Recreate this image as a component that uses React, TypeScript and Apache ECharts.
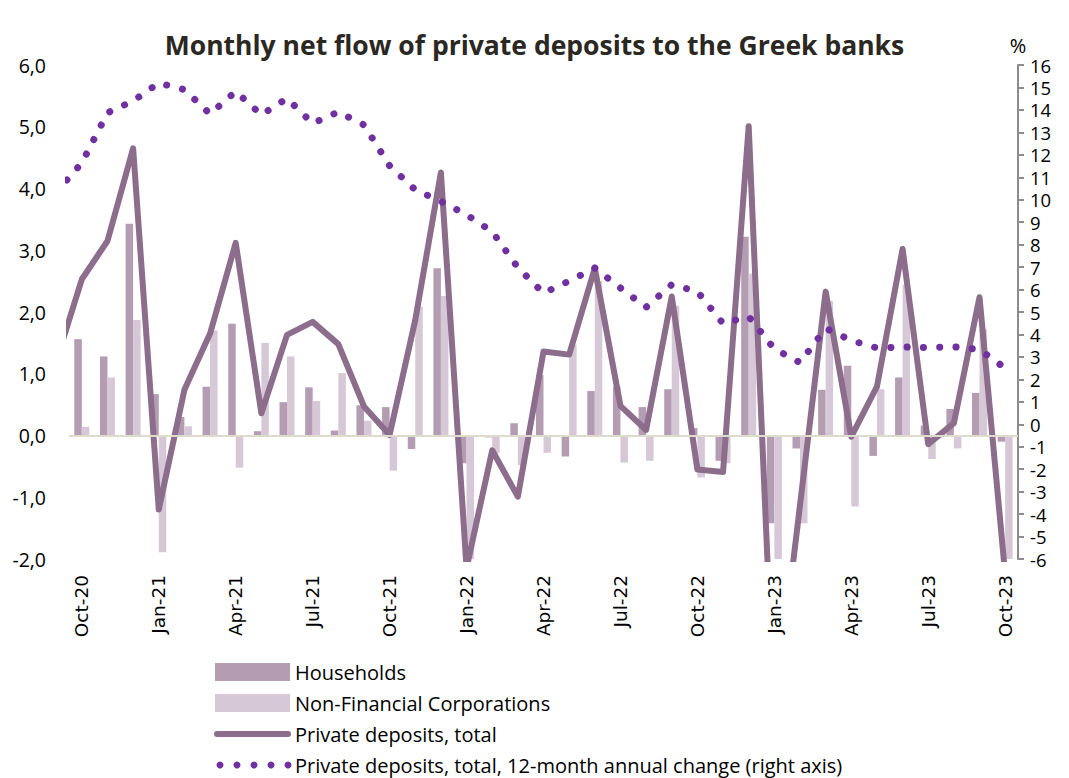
import React, { useEffect, useRef } from "react";
import * as echarts from "echarts";

const months = [
  "Oct-20", "Nov-20", "Dec-20", "Jan-21", "Feb-21", "Mar-21", "Apr-21", "May-21", "Jun-21",
  "Jul-21", "Aug-21", "Sep-21", "Oct-21", "Nov-21", "Dec-21", "Jan-22", "Feb-22", "Mar-22",
  "Apr-22", "May-22", "Jun-22", "Jul-22", "Aug-22", "Sep-22", "Oct-22", "Nov-22", "Dec-22",
  "Jan-23", "Feb-23", "Mar-23", "Apr-23", "May-23", "Jun-23", "Jul-23", "Aug-23", "Sep-23", "Oct-23",
];

const households = [
  1.56, 1.28, 3.43, 0.67, 0.30, 0.79, 1.81, 0.07, 0.54,
  0.78, 0.08, 0.49, 0.46, -0.22, 2.71, -0.45, -0.03, 0.20,
  0.98, -0.34, 0.72, 0.79, 0.46, 0.75, 0.12, -0.41, 3.22,
  -1.42, -0.21, 0.74, 1.13, -0.33, 0.94, 0.16, 0.43, 0.69, -0.10,
];

const nonFinancialCorporations = [
  0.14, 0.94, 1.87, -1.89, 0.15, 1.70, -0.52, 1.50, 1.28,
  0.56, 1.01, 0.24, -0.57, 2.09, 2.26, -2.3, -0.29, -0.48,
  -0.28, 1.47, 2.5, -0.44, -0.41, 2.1, -0.68, -0.45, 2.62,
  -2.6, -1.42, 2.18, -1.15, 0.75, 2.44, -0.38, -0.21, 1.72, -2.4,
];

const privateTotal = [
  2.53, 3.15, 4.65, -1.20, 0.74, 1.65, 3.12, 0.36, 1.63,
  1.84, 1.48, 0.47, 0.01, 1.87, 4.26, -2.15, -0.24, -0.99,
  1.36, 1.31, 2.71, 0.48, 0.09, 2.25, -0.55, -0.59, 5.01,
  -4.6, -1.13, 2.33, -0.02, 0.79, 3.02, -0.14, 0.20, 2.24, -2.25,
];

const annualChange = [
  11.64, 13.87, 14.4, 15.2, 14.9, 13.82, 14.82, 13.78, 14.51,
  13.4, 13.91, 13.33, 11.51, 10.44, 9.93, 9.33, 8.58, 6.98,
  5.84, 6.38, 6.96, 6.07, 5.21, 6.22, 5.91, 4.49, 4.8,
  3.36, 2.75, 4.27, 3.73, 3.4, 3.44, 3.42, 3.45, 3.33, 2.5,
];

// value of the month before the first category (Sep-20), partly visible at the left edge
const priorTotal = 1.2;
const priorAnnual = 10.33;

const legendLabels = [
  "Households",
  "Non-Financial Corporations",
  "Private deposits, total",
  "Private deposits, total, 12-month annual change (right axis)",
];

const C_HH = "#b49cb3";
const C_NFC = "#d6c8d6";
const C_TOTAL = "#8c6d8b";
const C_ANNUAL = "#7030a0";

export default function App() {
  const ref = useRef<HTMLDivElement>(null);

  useEffect(() => {
    const chart = echarts.init(ref.current!, null, { renderer: "svg" });
    const withPrior = (prior: number, arr: number[]) => [[-1, prior], ...arr.map((v, i) => [i, v])];

    const legendFont = { fontFamily: "Open Sans", fontSize: 20, lineHeight: 20, fill: "#000" };
    const lx = 215;
    const tx = 295;
    const ys = [672, 703, 734, 765];

    chart.setOption({
      animation: false,
      backgroundColor: "#ffffff",
      title: {
        text: "Monthly net flow of private deposits to the Greek banks",
        left: "center",
        top: 26,
        textStyle: { fontFamily: "Open Sans", fontWeight: "bold", fontSize: 26.5, color: "#2b2722" },
      },
      grid: { left: 69, right: 51, top: 65, bottom: 219 },
      xAxis: [
        {
          type: "category",
          data: months,
          boundaryGap: true,
          axisLine: { show: false, onZero: false },
          axisTick: { show: false },
          splitLine: { show: false },
          axisLabel: {
            interval: 2,
            rotate: 90,
            margin: 16,
            fontFamily: "DejaVu Sans",
            fontSize: 18.5,
            color: "#000",
          },
        },
        { type: "value", min: -0.5, max: 36.5, show: false },
      ],
      yAxis: [
        {
          type: "value",
          min: -2,
          max: 6,
          interval: 1,
          position: "left",
          axisLine: { show: false },
          axisTick: { show: false },
          splitLine: { show: false },
          axisLabel: {
            formatter: (v: number) => v.toFixed(1).replace(".", ","),
            fontFamily: "Open Sans",
            fontSize: 19.5,
            lineHeight: 22,
            color: "#000",
            margin: 23,
          },
        },
        {
          type: "value",
          min: -6,
          max: 16,
          interval: 1,
          position: "right",
          name: "%",
          nameLocation: "end",
          nameGap: 8,
          nameTextStyle: { fontFamily: "Open Sans", fontSize: 20, color: "#000", align: "center" },
          axisLine: { show: true, lineStyle: { color: "#8c8c8c", width: 2 } },
          axisTick: { show: true, inside: false, length: 6, lineStyle: { color: "#8c8c8c", width: 2 } },
          splitLine: { show: false },
          axisLabel: { fontFamily: "Open Sans", fontSize: 18.5, lineHeight: 18, color: "#000", margin: 12 },
        },
      ],
      series: [
        {
          name: legendLabels[0],
          type: "bar",
          xAxisIndex: 0,
          yAxisIndex: 0,
          data: households,
          barWidth: 7.5,
          barGap: "0%",
          itemStyle: { color: C_HH },
          markLine: {
            silent: true,
            symbol: ["none", "none"],
            label: { show: false },
            lineStyle: { color: "#dddbcc", width: 2, type: "solid" },
            data: [{ yAxis: 0 }],
          },
        },
        {
          name: legendLabels[1],
          type: "bar",
          xAxisIndex: 0,
          yAxisIndex: 0,
          data: nonFinancialCorporations,
          barWidth: 7.5,
          barGap: "0%",
          itemStyle: { color: C_NFC },
        },
        {
          name: legendLabels[2],
          type: "line",
          xAxisIndex: 1,
          yAxisIndex: 0,
          data: withPrior(priorTotal, privateTotal),
          symbol: "none",
          clip: true,
          z: 3,
          lineStyle: { color: C_TOTAL, width: 6, join: "round", cap: "round" },
        },
        {
          name: legendLabels[3],
          type: "line",
          xAxisIndex: 1,
          yAxisIndex: 1,
          data: withPrior(priorAnnual, annualChange),
          symbol: "none",
          clip: true,
          z: 4,
          lineStyle: { color: C_ANNUAL, width: 7, type: [0.1, 16.2], cap: "round" },
        },
      ],
      graphic: [
        { type: "rect", left: lx, top: ys[0] - 9, shape: { width: 75, height: 18 }, style: { fill: C_HH } },
        { type: "rect", left: lx, top: ys[1] - 9, shape: { width: 75, height: 18 }, style: { fill: C_NFC } },
        { type: "line", shape: { x1: lx + 2, y1: ys[2], x2: lx + 73, y2: ys[2] }, style: { stroke: C_TOTAL, lineWidth: 6, lineCap: "round" } },
        ...[0, 1, 2, 3, 4].map((k) => ({
          type: "circle",
          shape: { cx: lx + 5 + k * 17, cy: ys[3], r: 3.5 },
          style: { fill: C_ANNUAL },
        })),
        ...legendLabels.map((t, k) => ({
          type: "text",
          x: tx,
          y: ys[k],
          style: { ...legendFont, text: t, textVerticalAlign: "middle", verticalAlign: "middle" },
        })),
      ],
    });

    return () => chart.dispose();
  }, []);

  return (
    <div
      ref={ref}
      style={{ position: "fixed", left: 0, top: 0, width: 1069, height: 778, background: "#fff" }}
    />
  );
}
